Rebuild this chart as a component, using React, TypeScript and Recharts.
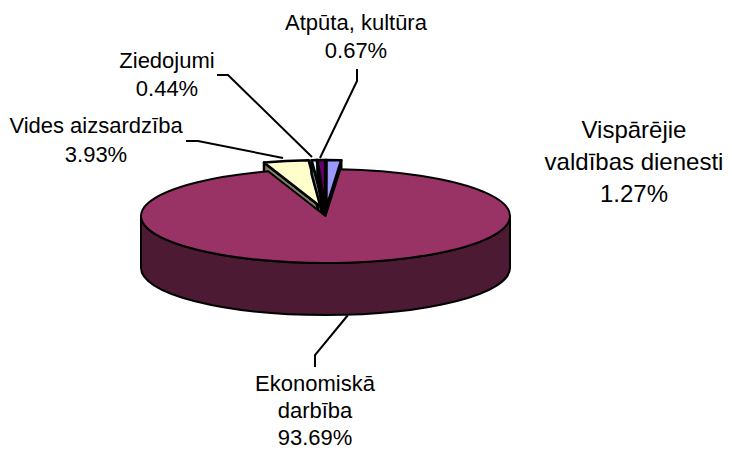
import React from "react";
import { PieChart, Pie, Cell } from "recharts";

const names = ["Vides aizsardzība", "Ziedojumi", "Atpūta, kultūra", "Vispārējie valdības dienesti", "Ekonomiskā darbība"];
const values = [3.93, 0.44, 0.67, 1.27, 93.69];
const topColors = ["#FFFFCC", "#CCFFFF", "#660066", "#9999FF", "#993366"];
const sideColors = ["#808066", "#668080", "#330033", "#4D4D80", "#4D1A33"];
const labelLines = [
  ["Vides aizsardzība", "3.93%"],
  ["Ziedojumi", "0.44%"],
  ["Atpūta, kultūra", "0.67%"],
  ["Vispārējie", "valdības dienesti", "1.27%"],
  ["Ekonomiskā", "darbība", "93.69%"],
];

const data = names.map((name, i) => ({ name, value: values[i] }));

const W = 732;
const H = 450;
const CX = 325.5;
const CY = 216;
const R = 184.5;
const SQUASH = 47 / 184.5;
const DEPTH = 52;
const EXPLODE_X = 22;
const EXPLODE_Y = 9;
const START = 108.1;

const rad = (d: number) => (d * Math.PI) / 180;

function Slice3D(props: any) {
  const { cx, cy, outerRadius, startAngle, endAngle, fill, index } = props;
  const i = index ?? 0;
  const isMain = i === names.length - 1;
  const mid = rad((startAngle + endAngle) / 2);
  const ox = isMain ? 0 : EXPLODE_X * Math.cos(mid);
  const oy = isMain ? 0 : -EXPLODE_Y * Math.sin(mid);
  const rx = outerRadius;
  const ry = outerRadius * SQUASH;
  const px = (a: number) => cx + ox + rx * Math.cos(rad(a));
  const py = (a: number) => cy + oy - ry * Math.sin(rad(a));
  const large = Math.abs(endAngle - startAngle) > 180 ? 1 : 0;
  const top = `M${cx + ox},${cy + oy} L${px(startAngle)},${py(startAngle)} A${rx},${ry} 0 ${large} 1 ${px(endAngle)},${py(endAngle)} Z`;
  const side = sideColors[i];
  const common = { stroke: "#000", strokeWidth: 2, strokeLinejoin: "round" as const };
  if (isMain) {
    const wall = `M${cx - rx},${cy} A${rx},${ry} 0 0 0 ${cx + rx},${cy} L${cx + rx},${cy + DEPTH} A${rx},${ry} 0 0 1 ${cx - rx},${cy + DEPTH} Z`;
    return (
      <g>
        <path d={wall} fill={side} {...common} />
        <path d={top} fill={fill} {...common} />
      </g>
    );
  }
  const extrude = 14;
  const wedge = { ...common, strokeWidth: 2.5 };
  return (
    <g>
      <path d={`M${cx + ox},${cy + oy} L${cx + ox},${cy + oy + extrude} L${px(startAngle)},${py(startAngle) + extrude} L${px(startAngle)},${py(startAngle)} Z`} fill={side} {...wedge} />
      <path d={`M${cx + ox},${cy + oy} L${cx + ox},${cy + oy + extrude} L${px(endAngle)},${py(endAngle) + extrude} L${px(endAngle)},${py(endAngle)} Z`} fill={side} {...wedge} />
      <path d={top} fill={fill} {...wedge} />
    </g>
  );
}

const labelPos = [
  { x: 96, y: 133, size: 22, lead: 28.5 },
  { x: 167, y: 68, size: 22, lead: 27.5 },
  { x: 356, y: 30, size: 22, lead: 28 },
  { x: 634, y: 138, size: 24, lead: 32 },
  { x: 315, y: 391, size: 22, lead: 27 },
];
const leaders = [
  "M186,141 L198,141 L283,158",
  "M217,75 L228,75 L312,157",
  "M357,69 L357,81 L320,158",
  "",
  "M348,315 L315,355 L315,367",
];

function SliceLabel(props: any) {
  const i = props.index;
  const p = labelPos[i];
  return (
    <g>
      {leaders[i] ? <path d={leaders[i]} fill="none" stroke="#000" strokeWidth={2} /> : null}
      <text x={p.x} y={p.y} textAnchor="middle" fontSize={p.size} fontFamily="'Liberation Sans', Arial, sans-serif" fill="#000">
        {labelLines[i].map((line, k) => (
          <tspan key={k} x={p.x} dy={k === 0 ? 0 : p.lead}>
            {line}
          </tspan>
        ))}
      </text>
    </g>
  );
}

export default function App() {
  return (
    <div style={{ position: "absolute", left: 0, top: 0, width: W, height: H, background: "#fff" }}>
      <PieChart width={W} height={H} margin={{ top: 0, right: 0, bottom: 0, left: 0 }}>
        <Pie
          data={data}
          dataKey="value"
          nameKey="name"
          cx={CX}
          cy={CY}
          innerRadius={0}
          outerRadius={R}
          startAngle={START}
          endAngle={START - 360}
          paddingAngle={0}
          shape={Slice3D}
          label={SliceLabel}
          labelLine={false}
          isAnimationActive={false}
          stroke="#000"
        >
          {data.map((_, i) => (
            <Cell key={i} fill={topColors[i]} />
          ))}
        </Pie>
      </PieChart>
    </div>
  );
}
